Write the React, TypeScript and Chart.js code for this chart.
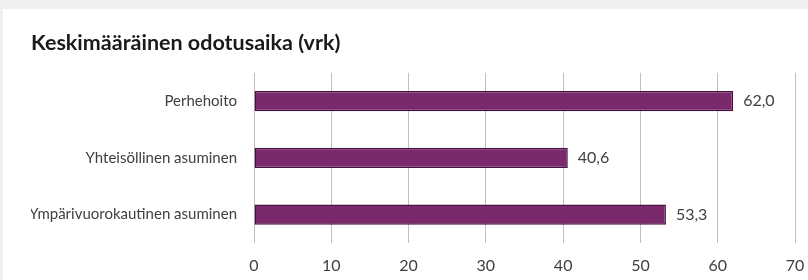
import React, { useEffect, useRef } from "react";
import { Chart, registerables } from "chart.js";

Chart.register(...registerables);

const categories = ["Perhehoito", "Yhteisöllinen asuminen", "Ympärivuorokautinen asuminen"];
const values = [62.0, 40.6, 53.3];
const titleText = "Keskimääräinen odotusaika (vrk)";
const xMin = 0;
const xMax = 70;
const xStep = 10;

const FONT = "Lato, 'Open Sans', sans-serif";

const valueLabels = {
  id: "valueLabels",
  afterDatasetsDraw(chart: any) {
    const ctx = chart.ctx;
    const meta = chart.getDatasetMeta(0);
    ctx.save();
    ctx.font = `16px ${FONT}`;
    ctx.fillStyle = "#404040";
    ctx.textAlign = "left";
    ctx.textBaseline = "middle";
    meta.data.forEach((el: any, i: number) => {
      const v = values[i];
      ctx.fillText(v.toFixed(1).replace(".", ","), el.x + 10, el.y);
    });
    ctx.restore();
  },
};

export default function App() {
  const ref = useRef<HTMLCanvasElement | null>(null);
  useEffect(() => {
    document.body.style.margin = "0";
    document.body.style.background = "#f0f0f0";
    if (!ref.current) return;
    const chart = new Chart(ref.current, {
      type: "bar",
      data: {
        labels: categories,
        datasets: [
          {
            data: values,
            backgroundColor: "#7a2a6c",
            borderColor: "#4a1042",
            borderWidth: 1.5,
            borderSkipped: false,
            barPercentage: 0.355,
            categoryPercentage: 1,
          },
        ],
      },
      options: {
        indexAxis: "y",
        animation: false,
        responsive: false,
        maintainAspectRatio: false,
        layout: { padding: { left: 31, right: 13, top: 0, bottom: 0 } },
        plugins: {
          legend: { display: false },
          tooltip: { enabled: false },
          title: {
            display: true,
            text: titleText,
            align: "start",
            color: "#1a1a1a",
            font: { family: FONT, size: 21.5, weight: "bold" },
            padding: { top: 30, bottom: 17 },
          },
        },
        scales: {
          x: {
            min: xMin,
            max: xMax,
            ticks: {
              stepSize: xStep,
              color: "#404040",
              font: { family: FONT, size: 16 },
              padding: 13,
            },
            grid: { color: "#bfbfbf", lineWidth: 1, drawTicks: false },
            border: { display: false },
            afterFit: (scale: any) => {
              scale.height = 37;
              scale.paddingRight = 0;
              scale.paddingLeft = 0;
            },
          },
          y: {
            ticks: {
              color: "#404040",
              font: { family: FONT, size: 15 },
              padding: 17,
            },
            grid: { display: false, drawTicks: false },
            border: { display: false },
            afterFit: (scale: any) => {
              scale.width = 223;
            },
          },
        },
      },
      plugins: [valueLabels],
    });
    return () => chart.destroy();
  }, []);
  return (
    <div style={{ position: "relative", width: 808, height: 280, background: "#f0f0f0" }}>
      <div style={{ position: "absolute", left: 3, top: 9, width: 805, height: 271, background: "#ffffff" }} />
      <canvas
        ref={ref}
        width={808}
        height={280}
        style={{ display: "block", position: "absolute", left: 0, top: 0 }}
      />
    </div>
  );
}
